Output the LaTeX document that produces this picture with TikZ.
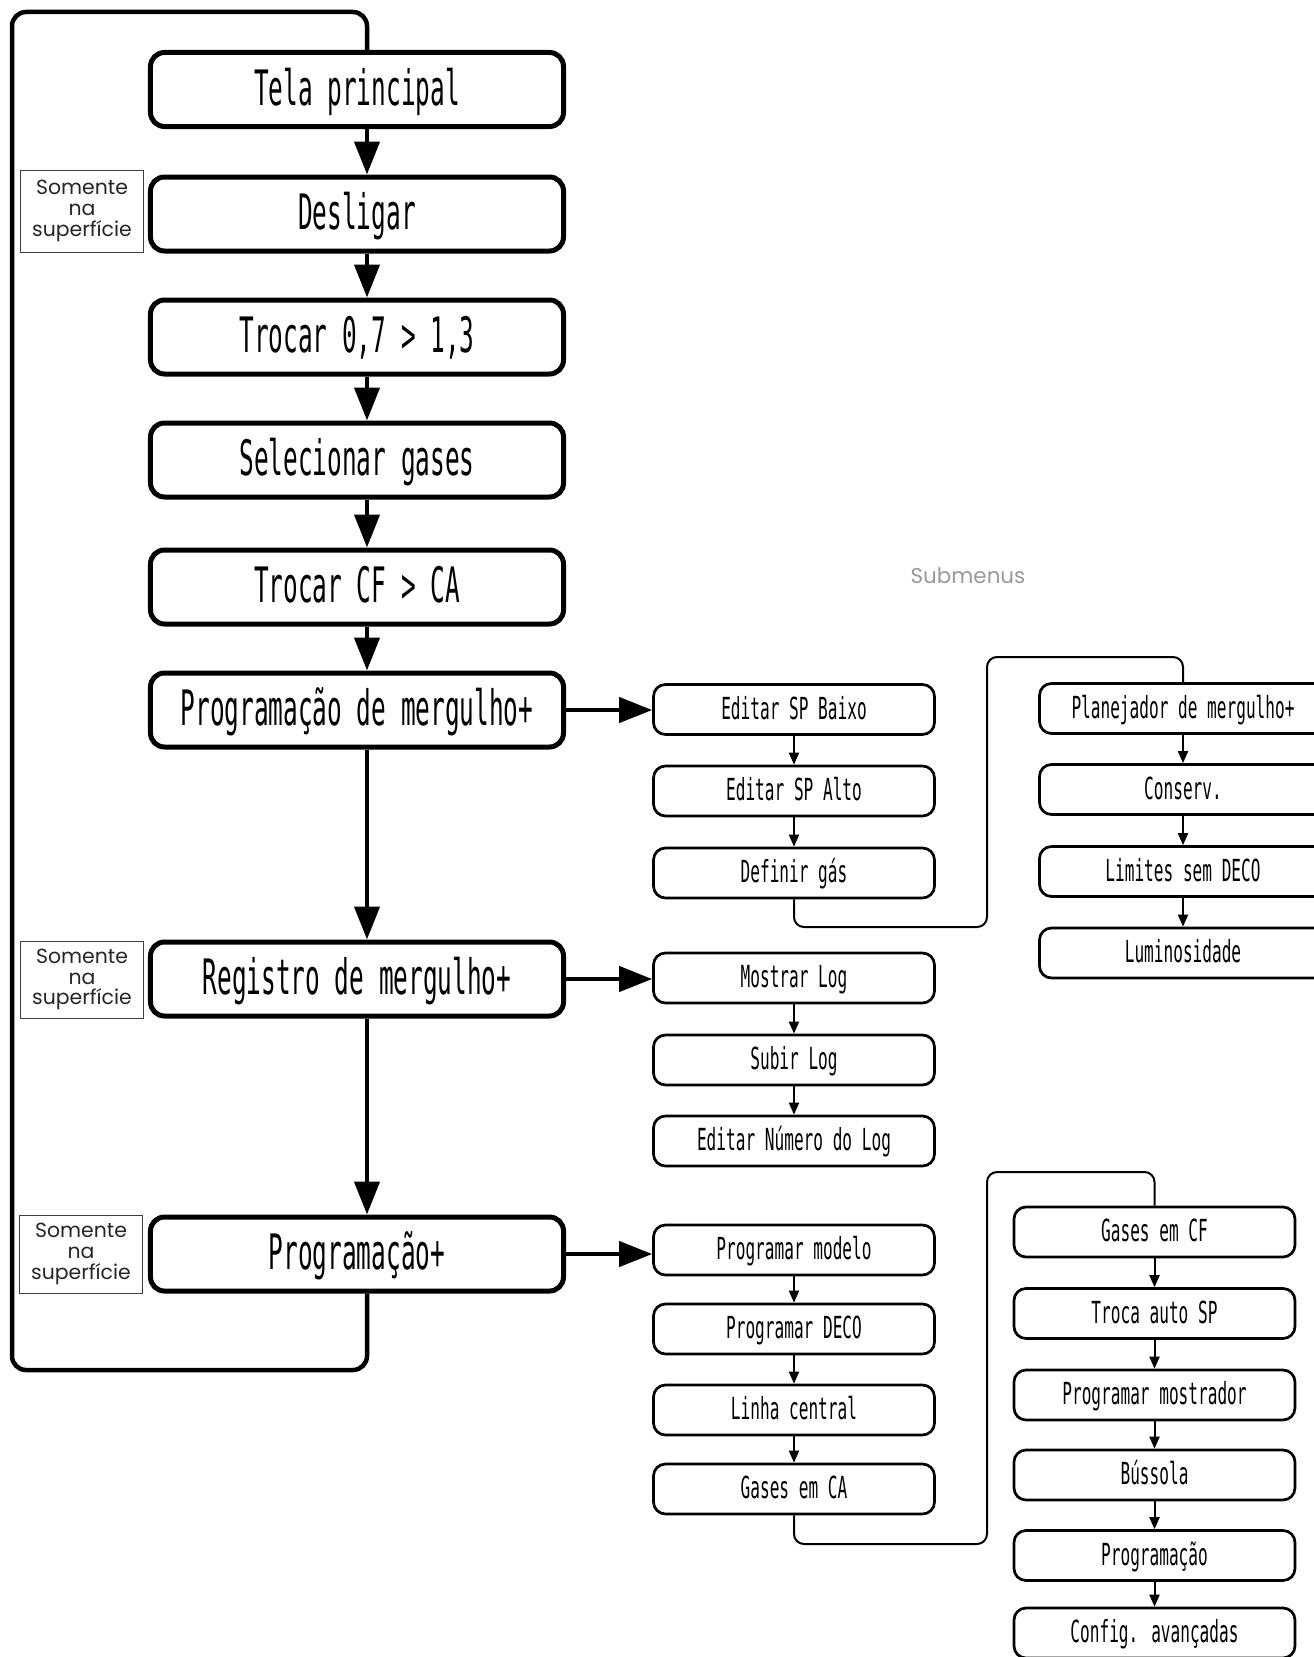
\documentclass[tikz,border=0pt]{standalone}
\usepackage{fontspec}
\setmainfont{Poppins}
\newfontfamily\monof[FakeStretch=0.5]{DejaVu Sans Mono}
\newfontfamily\monos[FakeStretch=0.53]{DejaVu Sans Mono}
\usetikzlibrary{arrows.meta}
\definecolor{subgray}{HTML}{9A9A9A}
\begin{document}
\begin{tikzpicture}[x=1bp,y=-1bp,
 mainbox/.style={draw, line width=5bp, rounded corners=14bp, minimum width=413bp, minimum height=74bp, inner sep=0pt,
   font=\monof\fontsize{49}{50}\selectfont, text height=35bp, text depth=4bp},
 subbox/.style={draw, line width=2.7bp, rounded corners=12bp, minimum width=281bp, minimum height=50bp, inner sep=0pt,
   font=\monos\fontsize{30.5}{34}\selectfont, text height=21bp, text depth=2bp},
 notebox/.style={draw=black!75, line width=1bp, align=center, inner sep=0pt, minimum width=122bp,
   font=\fontsize{20.5}{21}\selectfont, text=black!85},
 bigarrow/.style={line width=4.3bp, -{Triangle[length=33bp,width=25bp]}},
 smallarrow/.style={line width=2bp, -{Triangle[length=12bp,width=10bp]}},
 loopline/.style={line width=4.5bp, rounded corners=14bp},
 thinline/.style={line width=2bp, rounded corners=10bp}
]
\useasboundingbox (0,0) rectangle (1314,1657);
\fill[white] (0,0) rectangle (1314,1657);

% main column
\node[mainbox] (tela)  at (357,89.5)   {Tela principal};
\node[mainbox] (desl)  at (357,214)  {Desligar};
\node[mainbox] (troc)  at (357,337)  {Trocar 0,7 > 1,3};
\node[mainbox] (sel)   at (357,460)  {Selecionar gases};
\node[mainbox] (cfca)  at (357,587)  {Trocar CF > CA};
\node[mainbox] (prog)  at (357,710)  {Programação de mergulho+};
\node[mainbox] (reg)   at (357,979)  {Registro de mergulho+};
\node[mainbox] (progp) at (357,1254) {Programação+};

% notes
\node[notebox, minimum height=82bp] (n1) at (82,211) {Somente\\na\\superfície};
\node[notebox, minimum height=77bp] (n2) at (82,979.5) {Somente\\na\\superfície};
\node[notebox, minimum height=78bp] (n3) at (81,1254) {Somente\\na\\superfície};

\node[text=subgray, font=\fontsize{21.5}{24}\selectfont] (subm) at (968,576) {Submenus};

% left submenu column
\node[subbox] (esb)   at (794,709.5) {Editar SP Baixo};
\node[subbox] (esa)   at (794,791)   {Editar SP Alto};
\node[subbox] (defg)  at (794,873)   {Definir gás};
\node[subbox] (mlog)  at (794,978)   {Mostrar Log};
\node[subbox] (slog)  at (794,1060)  {Subir Log};
\node[subbox] (enl)   at (794,1141)  {Editar Número do Log};
\node[subbox] (pmod)  at (794,1250)  {Programar modelo};
\node[subbox] (pdeco) at (794,1329)  {Programar DECO};
\node[subbox] (lc)    at (794,1410)  {Linha central};
\node[subbox] (gca)   at (794,1489)  {Gases em CA};

% right column 1
\node[subbox, minimum width=287bp] (plan) at (1183,708.5) {Planejador de mergulho+};
\node[subbox, minimum width=287bp] (cons) at (1183,789.5) {Conserv.};
\node[subbox, minimum width=287bp] (lim)  at (1183,871.5) {Limites sem DECO};
\node[subbox, minimum width=287bp] (lum)  at (1183,953)   {Luminosidade};

% right column 2
\node[subbox] (gcf)   at (1154.5,1232)   {Gases em CF};
\node[subbox] (tsp)   at (1154.5,1313.5) {Troca auto SP};
\node[subbox] (pmos)  at (1154.5,1395)   {Programar mostrador};
\node[subbox] (bus)   at (1154.5,1475)   {Bússola};
\node[subbox] (progr) at (1154.5,1555.5) {Programação};
\node[subbox] (cfg)   at (1154.5,1633)   {Config. avançadas};

% main arrows
\foreach \a/\b in {tela/desl, desl/troc, troc/sel, sel/cfca, cfca/prog, prog/reg, reg/progp}
  \draw[bigarrow] ([xshift=10bp]\a.south) -- ([xshift=10bp]\b.north);

\draw[bigarrow] (prog.east) -- (prog.east -| esb.west);
\draw[bigarrow] (reg.east) -- (reg.east -| mlog.west);
\draw[bigarrow] (progp.east) -- (progp.east -| pmod.west);

% loop back
\draw[loopline] ([xshift=10bp]progp.south) -- (367,1370) -- (12,1370) -- (12,12) -- (367,12) -- ([xshift=10bp]tela.north);

% sub arrows
\foreach \a/\b in {esb/esa, esa/defg, mlog/slog, slog/enl, pmod/pdeco, pdeco/lc, lc/gca,
                   plan/cons, cons/lim, lim/lum, gcf/tsp, tsp/pmos, pmos/bus, bus/progr, progr/cfg}
  \draw[smallarrow] (\a.south) -- (\b.north);

% connectors between sub columns
\draw[thinline] (defg.south) -- (794,927) -- (987,927) -- (987,657) -- (1183,657) -- (plan.north);
\draw[thinline] (gca.south) -- (794,1544) -- (987,1544) -- (987,1172) -- (1154.5,1172) -- (gcf.north);
\end{tikzpicture}
\end{document}
